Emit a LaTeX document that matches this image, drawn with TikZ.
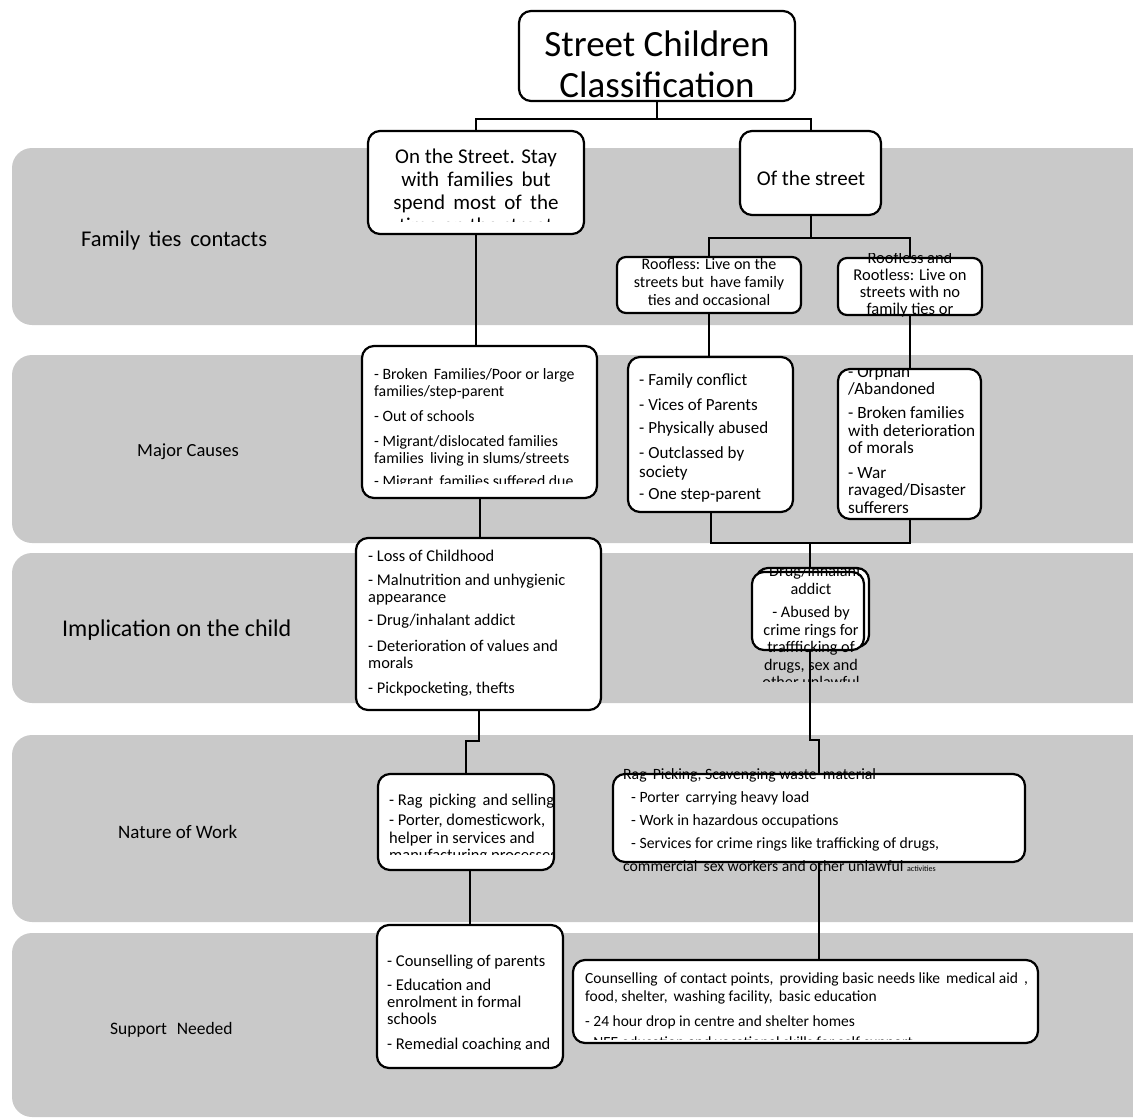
\documentclass[tikz,border=0pt]{standalone}
\usepackage{fontspec}
\setmainfont{Carlito}
\usetikzlibrary{positioning}
\definecolor{bandgray}{RGB}{201,201,201}

\begin{document}
\begin{tikzpicture}[x=1pt,y=-1pt,
  band/.style={fill=bandgray,rounded corners=20pt},
  rowlabel/.style={anchor=west,inner sep=0pt},
  box/.style={draw,line width=2.2pt,fill=white,rounded corners=12pt,inner sep=0pt},
  txt/.style={inner sep=0pt,anchor=north west,align=left},
  ctxt/.style={inner sep=0pt,anchor=north,align=center},
  link/.style={line width=2pt}]
\useasboundingbox (0,0) rectangle (1133,1119);
% rows
\begin{scope}
\clip (0,0) rectangle (1133,1119);
\fill[band] (12,148) rectangle (1160,325);
\fill[band] (12,355) rectangle (1160,543);
\fill[band] (12,553) rectangle (1160,703);
\fill[band] (12,735) rectangle (1160,922);
\fill[band] (12,933) rectangle (1160,1117);
\end{scope}
\node[rowlabel,font=\fontsize{22.5}{26}\selectfont] (famlabel) at (81,240) {Family\, ties\, contacts};
\node[rowlabel,font=\fontsize{18.5}{22}\selectfont] (causelabel) at (137,452) {Major Causes};
\node[rowlabel,font=\fontsize{24}{27}\selectfont] (implabel) at (62,630) {Implication on the child};
\node[rowlabel,font=\fontsize{19}{22}\selectfont] (worklabel) at (118,832) {Nature of Work};
\node[rowlabel,font=\fontsize{17.5}{20}\selectfont] (suplabel) at (110,1030) {Support\,\, Needed};

% boxes
\node[box,minimum width=276pt,minimum height=90pt] (title) at (657,56) {};
\node[box,minimum width=216pt,minimum height=103pt] (onst) at (476,182.5) {};
\node[box,minimum width=141pt,minimum height=84pt] (ofst) at (810.5,173) {};
\node[box,minimum width=184pt,minimum height=56pt,rounded corners=9pt] (roofless) at (709,285) {};
\node[box,minimum width=144pt,minimum height=57pt,rounded corners=9pt] (rootless) at (910,286.5) {};
\node[box,minimum width=235pt,minimum height=152pt] (oncause) at (479.5,422) {};
\node[box,minimum width=165pt,minimum height=155pt] (rfcause) at (710.5,434.5) {};
\node[box,minimum width=143pt,minimum height=150pt] (rtcause) at (909.5,444) {};
\node[box,minimum width=245pt,minimum height=172pt] (onimp) at (478.5,624) {};
\node[box,minimum width=113pt,minimum height=79pt] (ofimpb) at (812.5,607.5) {};
\node[box,minimum width=112pt,minimum height=78pt] (ofimp) at (808,611) {};
\node[box,minimum width=176pt,minimum height=96pt] (onwork) at (466,822) {};
\node[box,minimum width=412pt,minimum height=88pt] (ofwork) at (819,818) {};
\node[box,minimum width=186pt,minimum height=143pt] (onsup) at (470,996.5) {};
\node[box,minimum width=465pt,minimum height=83pt] (ofsup) at (805.5,1001.5) {};

% texts
\node[ctxt,font=\fontsize{37}{41}\selectfont] (titletext) at (657,31) {Street Children\\Classification};
\begin{scope}
\clip (368,131) rectangle (584,221);
\node[ctxt,font=\fontsize{21}{23}\selectfont] (onsttext) at (476,148.5) {On the Street. Stay\\ with\, families\, but\\ spend\, most\, of\, the\\ time on the street};
\end{scope}
\node[font=\fontsize{21}{24}\selectfont,inner sep=0pt] (ofsttext) at (811,178) {Of the street};
\node[ctxt,font=\fontsize{16}{18}\selectfont] (rooflesstext) at (709,258) {Roofless: Live on the\\ streets but\, have family\\ ties and occasional};
\begin{scope}
\clip (838,253) rectangle (982,316);
\node[ctxt,font=\fontsize{16.5}{17}\selectfont] (rootlesstext) at (910,252) {Roofless and\\ Rootless: Live on\\ streets with no\\ family ties or};
\end{scope}
\begin{scope}
\clip (362,346) rectangle (597,483);
\node[txt,font=\fontsize{15.8}{17}\selectfont] (oncausetext) at (374,368) {- Broken\, Families/Poor or large\\ families/step-parent\\[8pt] - Out of schools\\[8pt] - Migrant/dislocated families\\ families\, living in slums/streets\\[6pt] - Migrant\, families suffered due};
\end{scope}
\node[txt,font=\fontsize{17}{19}\selectfont] (rfcausetext) at (639,373) {- Family conflict\\[6pt] - Vices of Parents\\[4pt] - Physically abused\\[6pt] - Outclassed by\\ society\\[3pt] - One step-parent};
\begin{scope}
\clip (838,368) rectangle (981,530);
\node[txt,font=\fontsize{17.2}{17.5}\selectfont] (rtcausetext) at (848,365) {- Orphan\\ /Abandoned\\[6.5pt] - Broken families\\ with deterioration\\ of morals\\[7pt] - War\\ ravaged/Disaster\\ sufferers};
\end{scope}
\node[txt,font=\fontsize{16.4}{17}\selectfont] (onimptext) at (368,550) {- Loss of Childhood\\[7pt] - Malnutrition and unhygienic\\ appearance\\[6pt] - Drug/inhalant addict\\[9pt] - Deterioration of values and\\ morals\\[8pt] - Pickpocketing, thefts};
\begin{scope}
\clip (740,568) rectangle (880,681);
\node[ctxt,font=\fontsize{16.2}{17.5}\selectfont] (ofimptext) at (811,565.5) {- Drug/inhalant\\ addict\\[6pt] - Abused by\\ crime rings for\\ traffficking of\\ drugs, sex and\\ other unlawful};
\end{scope}
\begin{scope}
\clip (378,774) rectangle (554,854);
\node[txt,font=\fontsize{16.5}{17.5}\selectfont] (onworktext) at (389,794) {- Rag\, picking\, and selling\\[2.5pt] - Porter, domesticwork,\\ helper in services and\\ manufacturing processes};
\end{scope}
\node[txt,font=\fontsize{15.7}{23}\selectfont] (ofworktext) at (623,768) {Rag\, Picking, Scavenging waste\, material\\ \hspace*{8pt}- Porter\, carrying heavy load\\ \hspace*{8pt}- Work in hazardous occupations\\ \hspace*{8pt}- Services for crime rings like trafficking of drugs,\\ commercial\, sex workers and other unlawful {\fontsize{8}{9}\selectfont activities}};
\begin{scope}
\clip (377,925) rectangle (563,1049);
\node[txt,font=\fontsize{16.5}{17}\selectfont] (onsuptext) at (387,955) {- Counselling of parents\\[7pt] - Education and\\ enrolment in formal\\ schools\\[8pt] - Remedial coaching and};
\end{scope}
\begin{scope}
\clip (573,960) rectangle (1038,1039);
\node[txt,font=\fontsize{15.5}{18}\selectfont] (ofsuptext) at (585,973) {Counselling\, of contact points,\, providing basic needs like\, medical aid\, ,\\ food, shelter,\, washing facility,\, basic education\\[7pt] - 24 hour drop in centre and shelter homes\\[3pt] - NFE education and vocational skills for self support};
\end{scope}

% connectors
\draw[link] (title.south) -- ++(0,17) coordinate (split1);
\draw[link] (onst.north) |- (split1) -| (ofst.north);
\draw[link] (ofst.south) -- ++(0,22) coordinate (split2);
\draw[link] (roofless.north) |- (split2) -| (rootless.north);
\draw[link] (onst.south) -- (onst.south |- oncause.north);
\draw[link] (roofless.south) -- (roofless.south |- rfcause.north);
\draw[link] (rootless.south) -- (rootless.south |- rtcause.north);
\coordinate (join1) at (810,543);
\draw[link] (rfcause.south) |- (join1) -| (rtcause.south);
\draw[link] (join1) -- (join1 |- ofimpb.north);
\draw[link] (oncause.south) -- (oncause.south |- onimp.north);
\draw[link] (onimp.south) -- ++(0,30) -| (onwork.north);
\draw[link] (join1 |- ofimp.south) -- (810,740) -| (ofwork.north);
\draw[link] (onsup.north |- onwork.south) -- (onsup.north);
\draw[link] (ofwork.south) -- (ofwork.south |- ofsup.north);
\end{tikzpicture}
\end{document}
